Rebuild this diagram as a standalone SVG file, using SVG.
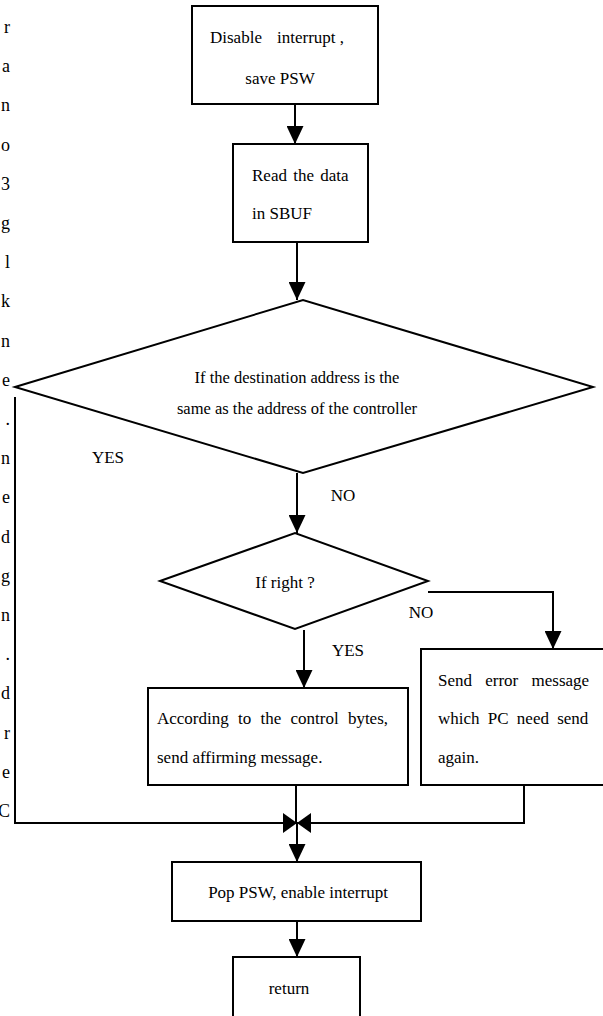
<svg xmlns="http://www.w3.org/2000/svg" width="603" height="1016" viewBox="0 0 603 1016">
<style>
.box{fill:#fff;stroke:#000;stroke-width:2}
.ln{fill:none;stroke:#000;stroke-width:2}
.t{font-family:"Liberation Serif","Times New Roman",serif;font-size:17px;fill:#000}
.tc{text-anchor:middle}
.dt{font-size:16.5px}
.side{font-family:"Liberation Serif","Times New Roman",serif;font-size:18px;fill:#000;text-anchor:end}
</style>
<defs>
<marker id="ah" markerWidth="18" markerHeight="17" refX="18" refY="8.5" orient="auto" markerUnits="userSpaceOnUse" viewBox="0 0 18 17"><path d="M0,0 L18,8.5 L0,17 z" fill="#000"/></marker>
<marker id="ah2" markerWidth="14" markerHeight="20" refX="14" refY="10" orient="auto" markerUnits="userSpaceOnUse" viewBox="0 0 14 20"><path d="M0,0 L14,10 L0,20 z" fill="#000"/></marker>
</defs>
<rect width="603" height="1016" fill="#fff"/>
<g id="margin-text">
<text class="side" x="10" y="33">r</text>
<text class="side" x="10" y="72">a</text>
<text class="side" x="10" y="111">n</text>
<text class="side" x="10" y="151">o</text>
<text class="side" x="10" y="190">3</text>
<text class="side" x="10" y="229">g</text>
<text class="side" x="10" y="268">l</text>
<text class="side" x="10" y="307">k</text>
<text class="side" x="10" y="347">n</text>
<text class="side" x="10" y="386">e</text>
<text class="side" x="10" y="425">.</text>
<text class="side" x="10" y="464">n</text>
<text class="side" x="10" y="503">e</text>
<text class="side" x="10" y="543">d</text>
<text class="side" x="10" y="582">g</text>
<text class="side" x="10" y="621">n</text>
<text class="side" x="10" y="660">.</text>
<text class="side" x="10" y="699">d</text>
<text class="side" x="10" y="739">r</text>
<text class="side" x="10" y="778">e</text>
<text class="side" x="10" y="817">C</text>
</g>
<g id="connectors">
<path class="ln" d="M295,104 V144" marker-end="url(#ah)"/>
<path class="ln" d="M297,242 V300" marker-end="url(#ah)"/>
<path class="ln" d="M297,473 V533" marker-end="url(#ah)"/>
<path class="ln" d="M428,592 H553 V649" marker-end="url(#ah)"/>
<path class="ln" d="M304,630 V688" marker-end="url(#ah)"/>
<path class="ln" d="M296,785 V823"/>
<path class="ln" d="M524,785 V823 H297" marker-end="url(#ah2)"/>
<path class="ln" d="M15,397 V823 H297" marker-end="url(#ah2)"/>
<path class="ln" d="M297,823 V862" marker-end="url(#ah)"/>
<path class="ln" d="M297,921 V957" marker-end="url(#ah)"/>
<text class="t" x="108" y="463" text-anchor="middle">YES</text>
<text class="t" x="343" y="501" text-anchor="middle">NO</text>
<text class="t" x="421" y="618" text-anchor="middle">NO</text>
<text class="t" x="348" y="656" text-anchor="middle">YES</text>
</g>
<g id="n1">
<rect class="box" x="192" y="6" width="186" height="98"/>
<text class="t" x="210" y="43">Disable<tspan x="277">interrupt ,</tspan></text>
<text class="t tc" x="280" y="84">save PSW</text>
</g>
<g id="n2">
<rect class="box" x="233" y="144" width="135" height="98"/>
<text class="t" x="252" y="181" word-spacing="2">Read the data</text>
<text class="t" x="252" y="219">in SBUF</text>
</g>
<g id="d1">
<polygon class="box" points="15,387 303,300 593,387 303,473"/>
<text class="t tc dt" x="297" y="383">If the destination address is the</text>
<text class="t tc dt" x="297" y="414">same as the address of the controller</text>
</g>
<g id="d2">
<polygon class="box" points="160,581 295,533 428,581 295,629"/>
<text class="t tc" x="285" y="588">If right ?</text>
</g>
<g id="n3">
<rect class="box" x="148" y="688" width="260" height="97"/>
<text class="t" x="157" y="724" word-spacing="5">According to the control bytes,</text>
<text class="t" x="157" y="763">send affirming message.</text>
</g>
<g id="n4">
<rect class="box" x="421" y="649" width="190" height="136"/>
<text class="t" x="438" y="686" word-spacing="9">Send error message</text>
<text class="t" x="438" y="724" word-spacing="4">which PC need send</text>
<text class="t" x="438" y="763">again.</text>
</g>
<g id="n5">
<rect class="box" x="172" y="862" width="249" height="59"/>
<text class="t tc" x="298" y="898">Pop PSW, enable interrupt</text>
</g>
<g id="n6">
<rect class="box" x="233" y="957" width="127" height="64"/>
<text class="t tc" x="289" y="994">return</text>
</g>
</svg>
